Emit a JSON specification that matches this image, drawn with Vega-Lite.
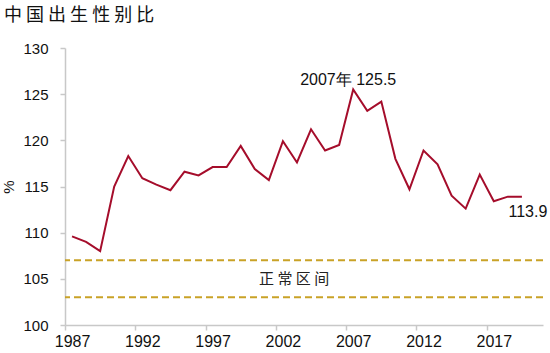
{
  "$schema": "https://vega.github.io/schema/vega-lite/v6.json",
  "width": 478,
  "height": 277,
  "autosize": "none",
  "padding": {"left": 65, "top": 48, "right": 7, "bottom": 28},
  "background": "white",
  "title": {
    "text": "中 国 出 生 性 别 比",
    "anchor": "start",
    "frame": "group",
    "dx": -61,
    "offset": 16,
    "font": "Noto Sans CJK SC",
    "fontSize": 18,
    "fontWeight": "normal",
    "color": "#111111"
  },
  "config": {
    "view": {"stroke": null},
    "axis": {
      "labelFont": "Liberation Sans",
      "labelFontSize": 15,
      "labelColor": "#111111",
      "domainColor": "#C8C8C8",
      "domainWidth": 1.5,
      "tickColor": "#C8C8C8",
      "tickWidth": 1.5,
      "tickSize": 5,
      "grid": false
    }
  },
  "datasets": {
    "ratio": [
      {"year": 1987, "value": 109.6},
      {"year": 1988, "value": 109.0},
      {"year": 1989, "value": 108.0},
      {"year": 1990, "value": 115.0},
      {"year": 1991, "value": 118.3},
      {"year": 1992, "value": 115.9},
      {"year": 1993, "value": 115.2},
      {"year": 1994, "value": 114.6},
      {"year": 1995, "value": 116.6},
      {"year": 1996, "value": 116.2},
      {"year": 1997, "value": 117.1},
      {"year": 1998, "value": 117.1},
      {"year": 1999, "value": 119.4},
      {"year": 2000, "value": 116.9},
      {"year": 2001, "value": 115.7},
      {"year": 2002, "value": 119.9},
      {"year": 2003, "value": 117.6},
      {"year": 2004, "value": 121.2},
      {"year": 2005, "value": 118.9},
      {"year": 2006, "value": 119.5},
      {"year": 2007, "value": 125.5},
      {"year": 2008, "value": 123.2},
      {"year": 2009, "value": 124.2},
      {"year": 2010, "value": 118.0},
      {"year": 2011, "value": 114.7},
      {"year": 2012, "value": 118.9},
      {"year": 2013, "value": 117.4},
      {"year": 2014, "value": 114.0},
      {"year": 2015, "value": 112.6},
      {"year": 2016, "value": 116.3},
      {"year": 2017, "value": 113.4},
      {"year": 2018, "value": 113.9},
      {"year": 2019, "value": 113.9}
    ],
    "bounds": [{"value": 107}, {"value": 103}],
    "notes": [
      {"year": 2007, "value": 125.5, "label": "2007年 125.5", "kind": "peak"},
      {"year": 2019, "value": 113.9, "label": "113.9", "kind": "last"}
    ],
    "band": [{"year": 2002.8, "value": 105, "label": "正 常 区 间"}]
  },
  "layer": [
    {
      "data": {"name": "bounds"},
      "mark": {"type": "rule", "color": "#C9A227", "strokeWidth": 2, "strokeDash": [7, 4]},
      "encoding": {
        "y": {"field": "value", "type": "quantitative", "scale": {"domain": [100, 130]}}
      }
    },
    {
      "data": {"name": "ratio"},
      "mark": {"type": "line", "color": "#A50D2B", "strokeWidth": 2},
      "encoding": {
        "x": {
          "field": "year",
          "type": "quantitative",
          "scale": {"domain": [1986.5, 2020.5], "nice": false, "zero": false},
          "axis": {
            "title": null,
            "values": [1987, 1992, 1997, 2002, 2007, 2012, 2017],
            "format": "d",
            "labelFontSize": 16,
            "tickOffset": -7.03,
            "labelOffset": 7.03,
            "labelPadding": 3
          }
        },
        "y": {
          "field": "value",
          "type": "quantitative",
          "scale": {"domain": [100, 130], "nice": false, "zero": false},
          "axis": {
            "title": "%",
            "titleFont": "Liberation Sans",
            "titleFontSize": 15,
            "titleFontWeight": "normal",
            "titleColor": "#111111",
            "titlePadding": 6,
            "values": [100, 105, 110, 115, 120, 125, 130],
            "labelPadding": 12
          }
        }
      }
    },
    {
      "data": {"name": "notes"},
      "transform": [{"filter": "datum.kind == 'peak'"}],
      "mark": {"type": "text", "font": "Liberation Sans", "fontSize": 16, "color": "#111111", "dx": -5, "dy": -2, "baseline": "bottom"},
      "encoding": {
        "x": {"field": "year", "type": "quantitative"},
        "y": {"field": "value", "type": "quantitative"},
        "text": {"field": "label"}
      }
    },
    {
      "data": {"name": "notes"},
      "transform": [{"filter": "datum.kind == 'last'"}],
      "mark": {"type": "text", "font": "Liberation Sans", "fontSize": 16, "color": "#111111", "dx": 6, "dy": 7, "baseline": "top"},
      "encoding": {
        "x": {"field": "year", "type": "quantitative"},
        "y": {"field": "value", "type": "quantitative"},
        "text": {"field": "label"}
      }
    },
    {
      "data": {"name": "band"},
      "mark": {"type": "text", "font": "Noto Sans CJK SC", "fontSize": 15, "color": "#222222", "baseline": "middle"},
      "encoding": {
        "x": {"field": "year", "type": "quantitative"},
        "y": {"field": "value", "type": "quantitative"},
        "text": {"field": "label"}
      }
    }
  ]
}
